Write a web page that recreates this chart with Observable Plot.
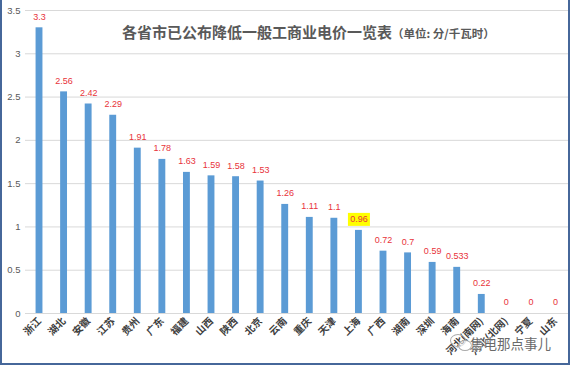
<!DOCTYPE html>
<html><head><meta charset="utf-8">
<script src="https://cdn.jsdelivr.net/npm/d3@7"></script>
<script src="https://cdn.jsdelivr.net/npm/@observablehq/plot@0.6"></script>
<style>
body{margin:0;background:#fff;}
#wrap{position:relative;width:572px;height:367px;overflow:hidden;background:#fff;}
#wrap svg{position:absolute;left:0;top:0;}
#title{position:absolute;left:122px;top:22px;font-family:"Noto Sans CJK SC",sans-serif;font-weight:bold;color:#595959;white-space:nowrap;font-size:15px;line-height:20px;}
#title span{font-size:11.5px;}
#wm{position:absolute;left:470px;top:333px;font-family:"Noto Sans CJK SC",sans-serif;font-size:13.5px;color:#6a6a6a;white-space:nowrap;text-shadow:0 0 2px #fff,0 0 2px #fff;}
#icon{position:absolute;left:450px;top:334px;width:14px;height:11px;border:1px solid #aaa;border-radius:50%;}
#icon2{position:absolute;left:458px;top:340px;width:12px;height:9px;border:1px solid #aaa;border-radius:50%;background:rgba(255,255,255,0.6);}
#border{position:absolute;left:0;top:-2px;width:570px;height:367px;box-sizing:border-box;border:2px solid #46679a;pointer-events:none;}
</style></head><body><div id="wrap">
<div id="title">各省市已公布降低一般工商业电价一览表<span>（单位: 分/千瓦时）</span></div>
</div>
<script>
const provinces = ["浙江","湖北","安徽","江苏","贵州","广东","福建","山西","陕西","北京","云南","重庆","天津","上海","广西","湖南","深圳","海南","河北(南网)","河北(北网)","宁夏","山东"];
const prices = [3.3,2.56,2.42,2.29,1.91,1.78,1.63,1.59,1.58,1.53,1.26,1.11,1.1,0.96,0.72,0.7,0.59,0.533,0.22,0,0,0];
const highlighted = ["上海"];
const yTicks = [0,0.5,1,1.5,2,2.5,3,3.5];
const data = provinces.map((p,i)=>({province:p, price:prices[i]}));
const rectSymbol = {draw(ctx){ctx.moveTo(-11,-6.5);ctx.lineTo(11,-6.5);ctx.lineTo(11,6.5);ctx.lineTo(-11,6.5);ctx.closePath();}};
const chart = Plot.plot({
  width:572, height:367,
  marginLeft:25, marginRight:3, marginTop:10, marginBottom:54,
  style:{background:"transparent", fontFamily:"'Liberation Sans',sans-serif", overflow:"visible"},
  x:{domain:provinces, paddingInner:0.72, paddingOuter:0.43, round:false, axis:null},
  y:{domain:[0,3.5], axis:null},
  marks:[
    Plot.gridY(yTicks,{stroke:"#d9d9d9", strokeOpacity:1}),
    Plot.axisY(yTicks,{tickSize:0, tickPadding:5, tickFormat:d=>String(d), fill:"#595959", fontSize:9.5, label:null}),
    Plot.barY(data,{x:"province", y:"price", fill:"#5b9bd5"}),
    Plot.dot(data.filter(d=>highlighted.includes(d.province)),{x:"province", y:"price", symbol:rectSymbol, fill:"#ffff00", stroke:"none", dy:-11}),
    Plot.text(data,{x:"province", y:"price", text:d=>String(d.price), dy:-11, fill:"#e8333a", fontSize:9}),
    Plot.axisX({tickSize:0, tickPadding:6, tickRotate:-45, fontFamily:"'Noto Sans CJK SC',sans-serif", fontWeight:"bold", fontSize:10, fill:"#404040", label:null})
  ]
});
const wrap = document.getElementById("wrap");
wrap.insertBefore(chart, wrap.firstChild);
wrap.insertAdjacentHTML("beforeend",'<div id="icon"></div><div id="icon2"></div><div id="wm">售电那点事儿</div><div id="border"></div>');
</script>
</body></html>
